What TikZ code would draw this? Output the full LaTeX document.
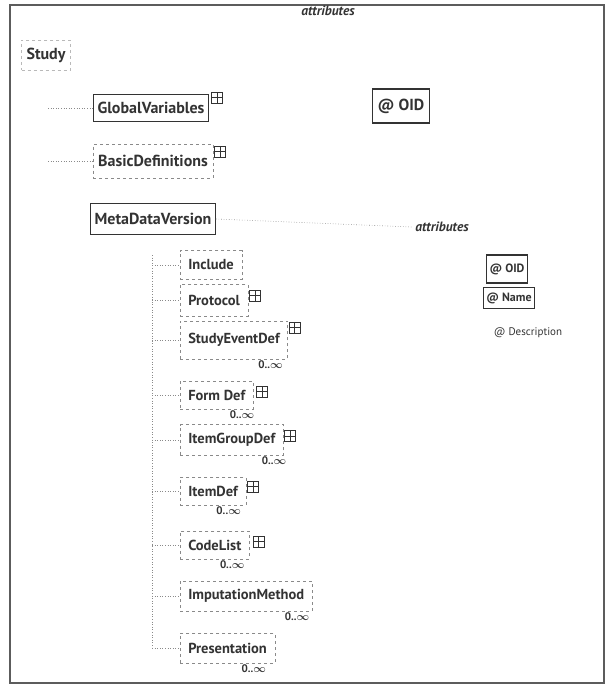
\documentclass[tikz,border=0pt]{standalone}
\usepackage{amsmath}
\usepackage{fontspec}
\setmainfont{PT Sans}
\usepackage{tikz}
\usetikzlibrary{positioning}
\definecolor{inkgray}{HTML}{333333}
\definecolor{rulegray}{HTML}{8a8a8a}

\begin{document}
\begin{tikzpicture}[x=1pt, y=-1pt, node distance=2pt, text=inkgray,
		elem/.style={draw=inkgray, line width=1.1pt, inner xsep=4pt, minimum height=27pt, font=\fontsize{16}{18}\selectfont\bfseries},
		optelem/.style={draw=rulegray, dashed, line width=0.5pt, inner xsep=5pt, minimum height=30pt, font=\fontsize{16}{18}\selectfont\bfseries},
		child/.style={draw=rulegray, dashed, line width=0.5pt, anchor=west, inner xsep=8pt, minimum height=29pt, font=\fontsize{14.5}{17}\selectfont\bfseries},
		attrhead/.style={font=\fontsize{13.5}{15}\selectfont\bfseries\itshape},
		attrbox/.style={draw=inkgray, line width=1.1pt, inner xsep=3pt, minimum height=22pt, font=\fontsize{12}{14}\selectfont\bfseries},
		mult/.style={anchor=north east, inner sep=1pt, font=\fontsize{11}{13}\selectfont\bfseries},
		plusbox/.style={draw=inkgray, line width=0.9pt, inner sep=0pt, minimum size=11pt, anchor=south west,
			path picture={\draw[inkgray, line width=0.9pt] (path picture bounding box.north) -- (path picture bounding box.south)
				(path picture bounding box.west) -- (path picture bounding box.east);}},
		link/.style={draw=rulegray, dotted, line width=0.6pt}]
	\useasboundingbox (0,0) rectangle (607,686);
	\draw[draw=inkgray!80, line width=1.3pt] (10,5) rectangle (604,683);

	% study and its top level content
	\node[attrhead] (attrstudy) at (328,11) {attributes};
	\node[optelem, draw=rulegray!60] (study) at (46,55) {Study};
	\node[elem] (globalvars) at (151,108) {GlobalVariables};
	\node[plusbox, right=2pt of globalvars.north east, anchor=north west, yshift=2pt] (globalplus) {};
	\node[optelem, minimum height=34pt] (basicdefs) at (153,161) {BasicDefinitions};
	\node[plusbox, right=1pt of basicdefs.north east, anchor=north west, yshift=-2pt] (basicplus) {};
	\node[elem, minimum height=31pt] (mdv) at (153,219) {MetaDataVersion};
	\node[elem, minimum height=34pt, inner xsep=5pt] (studyoid) at (401,106) {@ OID};

	\coordinate (studyrail) at (48,108);
	\draw[link] (studyrail) -- (globalvars.west);
	\draw[link] (studyrail |- basicdefs.west) -- (basicdefs.west);

	% metadataversion attributes
	\node[attrhead] (attrmdv) at (442,227) {attributes};
	\draw[link] (mdv.east) -- (attrmdv.west);
	\node[attrbox, minimum height=28pt] (mdvoid) at (507,269) {@ OID};
	\node[attrbox, minimum height=21pt] (mdvname) at (509,298) {@ Name};
	\node[font=\fontsize{11}{13}\selectfont] (mdvdesc) at (528,333) {@ Description};

	% metadataversion children
	\node[child] (include) at (180,265) {Include};
	\node[child, minimum height=32pt] (protocol) at (180,300) {Protocol};
	\node[plusbox, right=1pt of protocol.north east, anchor=north west, yshift=-6pt] (protocolplus) {};
	\node[child, minimum height=38pt] (studyevent) at (180,340) {StudyEventDef};
	\node[plusbox, right=1pt of studyevent.north east, anchor=north west, yshift=-1pt] (studyeventplus) {};
	\node[mult] (studyeventmult) at ([xshift=-4pt]studyevent.south east) {0..$\boldsymbol{\infty}$};
	\node[child, minimum height=28pt] (formdef) at (180,395) {Form Def};
	\node[plusbox, right=3pt of formdef.north east, anchor=north west, yshift=-5pt] (formplus) {};
	\node[mult] (formmult) at ([xshift=2pt]formdef.south east) {0..$\boldsymbol{\infty}$};
	\node[child, minimum height=31pt] (itemgroup) at (180,440) {ItemGroupDef};
	\node[plusbox, right=1pt of itemgroup.north east, anchor=north west, yshift=-6pt] (itemgroupplus) {};
	\node[mult] (itemgroupmult) at ([xshift=4pt]itemgroup.south east) {0..$\boldsymbol{\infty}$};
	\node[child, minimum height=28pt] (itemdef) at (180,491) {ItemDef};
	\node[plusbox, right=1pt of itemdef.north east, anchor=north west, yshift=-4pt] (itemdefplus) {};
	\node[mult] (itemdefmult) at ([xshift=-4pt]itemdef.south east) {0..$\boldsymbol{\infty}$};
	\node[child, minimum height=28pt] (codelist) at (180,545) {CodeList};
	\node[plusbox, right=3pt of codelist.north east, anchor=north west, yshift=-5pt] (codelistplus) {};
	\node[mult] (codelistmult) at ([xshift=-4pt]codelist.south east) {0..$\boldsymbol{\infty}$};
	\node[child, minimum height=30pt] (imputation) at (180,596) {ImputationMethod};
	\node[mult] (imputationmult) at ([xshift=-2pt]imputation.south east) {0..$\boldsymbol{\infty}$};
	\node[child, minimum height=30pt] (presentation) at (180,648) {Presentation};
	\node[mult] (presentationmult) at ([xshift=-8pt]presentation.south east) {0..$\boldsymbol{\infty}$};

	\coordinate (childtop) at (152,255);
	\coordinate (childbottom) at (152,650);
	\draw[link] (childtop) -- (childbottom);
	\foreach \kid in {include, protocol, studyevent, formdef, itemgroup, itemdef, codelist, imputation, presentation}
		\draw[link] (childtop |- \kid.west) -- (\kid.west);
\end{tikzpicture}
\end{document}
